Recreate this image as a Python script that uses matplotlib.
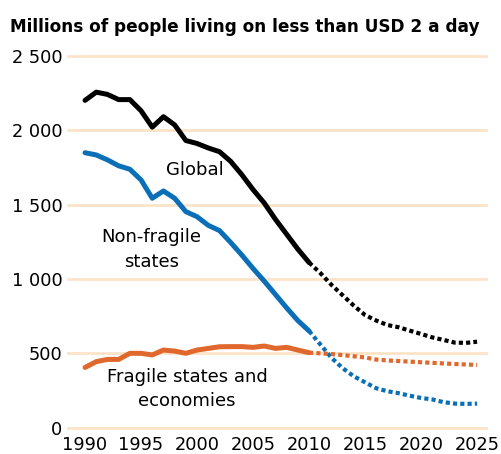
import matplotlib.pyplot as plt
from matplotlib.ticker import FuncFormatter

# Historical data 1990-2010 (millions of people)
years = list(range(1990, 2011))
global_hist = [2200, 2255, 2240, 2205, 2205, 2130, 2020, 2090, 2035, 1930, 1910,
               1880, 1855, 1790, 1700, 1600, 1510, 1400, 1300, 1200, 1110]
nonfragile_hist = [1848, 1833, 1800, 1760, 1737, 1665, 1542, 1591, 1542, 1452, 1418,
                   1360, 1325, 1245, 1160, 1070, 985, 895, 805, 720, 650]
fragile_hist = [405, 444, 459, 459, 500, 500, 489, 522, 515, 500, 522,
                533, 544, 545, 545, 540, 549, 533, 540, 522, 504]

# Projections 2010-2025
proj_years = list(range(2010, 2026))
global_proj = [1110, 1040, 960, 890, 820, 757, 720, 690, 675, 652, 630,
               607, 590, 572, 570, 578]
nonfragile_proj = [650, 560, 470, 400, 345, 305, 265, 245, 232, 215, 200,
                   190, 172, 162, 160, 162]
fragile_proj = [504, 500, 495, 488, 480, 472, 458, 452, 448, 444, 440,
                436, 432, 428, 425, 422]

yticks = [0, 500, 1000, 1500, 2000, 2500]
xticks = [1990, 1995, 2000, 2005, 2010, 2015, 2020, 2025]

plt.rcParams['font.family'] = ['DejaVu Sans']

fig = plt.figure(figsize=(5.02, 4.54), dpi=100)
ax = fig.add_axes([0.1355, 0.0579, 0.8327, 0.8194])

black = '#000000'
blue = '#0a6fb7'
orange = '#e0682c'
grid = '#fde3c8'

for y in yticks:
    ax.axhline(y, color=grid, lw=2, zorder=0, clip_on=False)

dot = (0, (1, 0.75))
ax.plot(years, global_hist, color=black, lw=3.6, solid_capstyle='round', clip_on=False)
ax.plot(proj_years, global_proj, color=black, lw=3, linestyle=dot, clip_on=False)
ax.plot(years, nonfragile_hist, color=blue, lw=3.6, solid_capstyle='round', clip_on=False)
ax.plot(proj_years, nonfragile_proj, color=blue, lw=3, linestyle=dot, clip_on=False)
ax.plot(years, fragile_hist, color=orange, lw=3.6, solid_capstyle='round', clip_on=False)
ax.plot(proj_years, fragile_proj, color=orange, lw=3, linestyle=dot, clip_on=False)

ax.text(1999.8, 1732, 'Global', fontsize=13, ha='center', va='center')
ax.text(1995.9, 1201, 'Non-fragile\nstates', fontsize=13, ha='center', va='center',
        linespacing=1.5)
ax.text(1999.1, 260, 'Fragile states and\neconomies', fontsize=13, ha='center',
        va='center', linespacing=1.45)

ax.set_xlim(1988.48, 2025.8)
ax.set_ylim(0, 2500)
ax.set_yticks(yticks)
ax.set_xticks(xticks)
ax.yaxis.set_major_formatter(FuncFormatter(lambda v, p: f'{int(v):,}'.replace(',', ' ')))
ax.tick_params(axis='both', length=0, labelsize=12.8)
ax.tick_params(axis='y', pad=4)
ax.tick_params(axis='x', pad=6)
for s in ax.spines.values():
    s.set_visible(False)

fig.text(0.02, 0.930, 'Millions of people living on less than USD 2 a day',
         fontsize=12.2, fontweight='bold', ha='left', va='baseline')

fig.savefig('out.png', dpi=100)
